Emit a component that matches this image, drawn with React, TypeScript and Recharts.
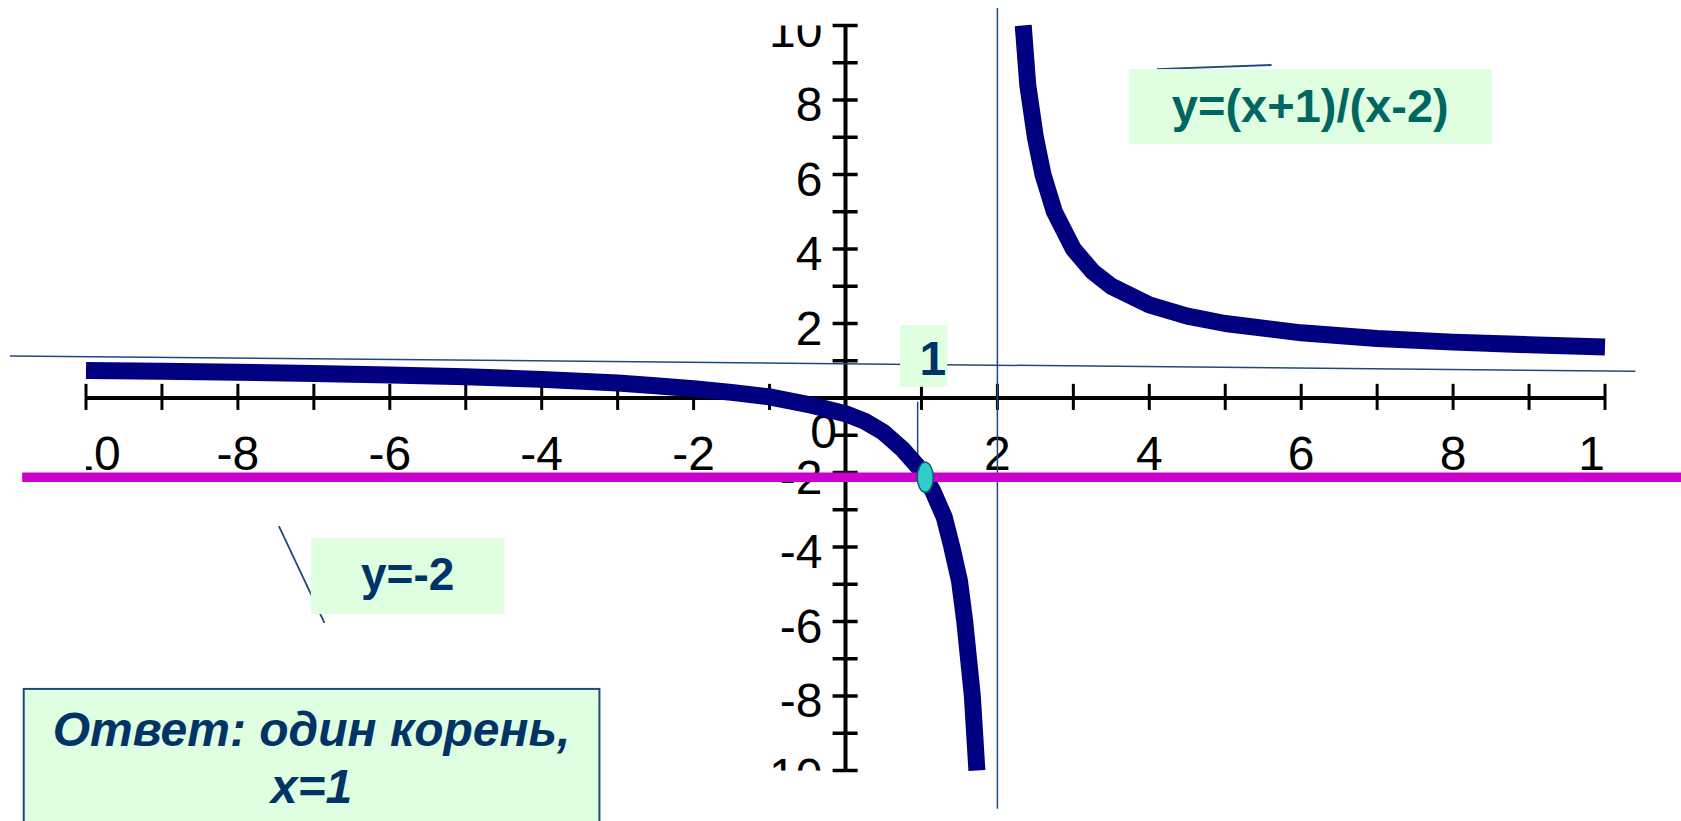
import React from 'react';
import {
  ComposedChart,
  Line,
  XAxis,
  YAxis,
  ReferenceLine,
  ReferenceDot,
  ReferenceArea,
} from 'recharts';

// ---- data ----
const leftBranch = [
  { x: -10, y: 0.74 }, { x: -9, y: 0.72 }, { x: -8, y: 0.69 }, { x: -7, y: 0.66 },
  { x: -6, y: 0.62 }, { x: -5, y: 0.57 }, { x: -4, y: 0.5 }, { x: -3, y: 0.4 },
  { x: -2.5, y: 0.33 }, { x: -2, y: 0.25 }, { x: -1.5, y: 0.15 }, { x: -1, y: 0.03 },
  { x: -0.5, y: -0.17 }, { x: 0, y: -0.42 }, { x: 0.25, y: -0.62 }, { x: 0.5, y: -0.92 },
  { x: 0.75, y: -1.37 }, { x: 1, y: -1.95 }, { x: 1.15, y: -2.5 }, { x: 1.3, y: -3.2 },
  { x: 1.4, y: -4 }, { x: 1.5, y: -4.9 }, { x: 1.57, y: -6 }, { x: 1.62, y: -7 },
  { x: 1.67, y: -8 }, { x: 1.7, y: -9 }, { x: 1.73, y: -10 },
];
const rightBranch = [
  { x: 2.34, y: 10 }, { x: 2.4, y: 8.4 }, { x: 2.5, y: 7 }, { x: 2.6, y: 6 },
  { x: 2.75, y: 5 }, { x: 3, y: 4 }, { x: 3.25, y: 3.4 }, { x: 3.5, y: 3 },
  { x: 4, y: 2.5 }, { x: 4.5, y: 2.2 }, { x: 5, y: 2 }, { x: 6, y: 1.75 },
  { x: 7, y: 1.6 }, { x: 8, y: 1.5 }, { x: 9, y: 1.43 }, { x: 10, y: 1.37 },
];

const xTickValues = [-10, -9, -8, -7, -6, -5, -4, -3, -2, -1, 0, 1, 2, 3, 4, 5, 6, 7, 8, 9, 10];
const yTickValues = [-10, -9, -8, -7, -6, -5, -4, -3, -2, -1, 1, 2, 3, 4, 5, 6, 7, 8, 9, 10];
const xLabelValues = [-10, -8, -6, -4, -2, 2, 4, 6, 8, 10];
const yLabelValues = [10, 8, 6, 4, 2, -2, -4, -6, -8, -10];
const originLabel = { x: 0, y: 0, text: '0' };

const xAxisSegment = [{ x: -10, y: 0 }, { x: 10, y: 0 }];
const yAxisSegment = [{ x: 0, y: -10 }, { x: 0, y: 10 }];

const horizontalAsymptote = [{ x: -11.0, y: 1.13 }, { x: 10.4, y: 0.72 }];
const verticalAsymptote = [{ x: 2, y: 10.47 }, { x: 2, y: -11.03 }];
const magentaLine = [{ x: -10.84, y: -2.13 }, { x: 11.3, y: -2.13 }];
const rootGuide = [{ x: 0.95, y: -0.1 }, { x: 0.95, y: -1.75 }];
const formulaPointer = [{ x: 4.1, y: 8.83 }, { x: 5.61, y: 8.94 }];
const linePointer = [{ x: -7.46, y: -3.44 }, { x: -6.86, y: -6.04 }];
const intersection = { x: 1.05, y: -2.13 };

const formulaBox = { x1: 3.73, x2: 8.51, y1: 6.82, y2: 8.83, lines: ['y=(x+1)/(x-2)'] };
const lineBox = { x1: -7.04, x2: -4.49, y1: -5.8, y2: -3.76, lines: ['y=-2'] };
const oneBox = { x1: 0.72, x2: 1.34, y1: 0.3, y2: 1.96, lines: ['1'] };
const answerBox = { x1: -10.82, x2: -3.24, y1: -11.6, y2: -7.81, lines: ['Ответ: один корень,', 'x=1'] };

// ---- styles ----
const FONT = '"Liberation Sans", Arial, sans-serif';
const MINT = '#e0ffe0';
const NAVY_TEXT = '#003366';
const THIN = '#1f497d';

// label drawn through a zero-length ReferenceLine segment (x1,y1 = anchor point)
const tickLabel = (text: string, anchor: 'middle' | 'end', dx: number, dy: number) => (p: any) => (
  <text
    x={p.x1 + dx}
    y={p.y1 + dy}
    clipPath={p.clipPath}
    textAnchor={anchor}
    fontFamily={FONT}
    fontSize={48}
    fill="#000"
  >
    {text}
  </text>
);

const boxShape =
  (
    lines: string[],
    opts: {
      color: string;
      size: number;
      italic?: boolean;
      stroke?: string;
      first: number;
      step?: number;
      dx?: number;
    },
  ) =>
  (p: any) =>
    (
      <g>
        <rect
          x={p.x}
          y={p.y}
          width={p.width}
          height={p.height}
          fill={MINT}
          stroke={opts.stroke || 'none'}
          strokeWidth={opts.stroke ? 2 : 0}
        />
        {lines.map((t, i) => (
          <text
            key={i}
            x={p.x + p.width / 2 + (opts.dx || 0)}
            y={p.y + opts.first + i * (opts.step || 0)}
            textAnchor="middle"
            fontFamily={FONT}
            fontSize={opts.size}
            fontWeight="bold"
            fontStyle={opts.italic ? 'italic' : 'normal'}
            fill={opts.color}
          >
            {t}
          </text>
        ))}
      </g>
    );

const ellipseShape = (p: any) => (
  <ellipse cx={p.cx} cy={p.cy} rx={8} ry={15} fill="#33cccc" stroke="#006666" strokeWidth={1.5} />
);

export default function App() {
  return (
    <div style={{ position: 'absolute', left: 0, top: 0, width: 1681, height: 821, background: '#fff' }}>
      <ComposedChart
        width={1681}
        height={821}
        margin={{ left: 86, right: 76, top: 25.5, bottom: 50.5 }}
      >
        <XAxis type="number" dataKey="x" domain={[-10, 10]} hide />
        <YAxis type="number" dataKey="y" domain={[-10, 10]} hide />

        {/* tick labels */}
        {xLabelValues.map((v) => (
          <ReferenceLine
            key={'xl' + v}
            segment={[{ x: v, y: 0 }, { x: v, y: 0 }]}
            ifOverflow="hidden"
            zIndex={100}
            shape={tickLabel(String(v), 'middle', 0, 72)}
          />
        ))}
        <ReferenceLine
          segment={[{ x: originLabel.x, y: originLabel.y }, { x: originLabel.x, y: originLabel.y }]}
          ifOverflow="hidden"
          zIndex={100}
          shape={tickLabel(originLabel.text, 'middle', -22, 50)}
        />
        {yLabelValues.map((v) => (
          <ReferenceLine
            key={'yl' + v}
            segment={[{ x: 0, y: v }, { x: 0, y: v }]}
            ifOverflow="hidden"
            zIndex={100}
            shape={tickLabel(String(v), 'end', -23, 21)}
          />
        ))}

        {/* axes */}
        <ReferenceLine segment={xAxisSegment} stroke="#000" strokeWidth={4} ifOverflow="visible" zIndex={200} />
        <ReferenceLine segment={yAxisSegment} stroke="#000" strokeWidth={4} ifOverflow="visible" zIndex={200} />
        {xTickValues.map((v) => (
          <ReferenceLine
            key={'xt' + v}
            segment={[{ x: v, y: 0.38 }, { x: v, y: -0.32 }]}
            stroke="#000"
            strokeWidth={3}
            ifOverflow="visible"
            zIndex={200}
          />
        ))}
        {yTickValues.map((v) => (
          <ReferenceLine
            key={'yt' + v}
            segment={[{ x: -0.17, y: v }, { x: 0.16, y: v }]}
            stroke="#000"
            strokeWidth={3.5}
            ifOverflow="visible"
            zIndex={200}
          />
        ))}

        {/* thin guide lines */}
        <ReferenceLine segment={horizontalAsymptote} stroke={THIN} strokeWidth={1.5} ifOverflow="visible" zIndex={300} />
        <ReferenceLine segment={verticalAsymptote} stroke={THIN} strokeWidth={1.5} ifOverflow="visible" zIndex={300} />
        <ReferenceLine segment={rootGuide} stroke={THIN} strokeWidth={1.5} ifOverflow="visible" zIndex={300} />
        <ReferenceLine segment={formulaPointer} stroke={THIN} strokeWidth={1.8} ifOverflow="visible" zIndex={300} />
        <ReferenceLine segment={linePointer} stroke={THIN} strokeWidth={1.8} ifOverflow="visible" zIndex={300} />

        {/* the hyperbola */}
        <Line
          data={leftBranch}
          dataKey="y"
          type="linear"
          stroke="#000080"
          strokeWidth={17}
          strokeLinejoin="round"
          strokeLinecap="butt"
          dot={false}
          activeDot={false}
          isAnimationActive={false}
          zIndex={400}
        />
        <Line
          data={rightBranch}
          dataKey="y"
          type="linear"
          stroke="#000080"
          strokeWidth={17}
          strokeLinejoin="round"
          strokeLinecap="butt"
          dot={false}
          activeDot={false}
          isAnimationActive={false}
          zIndex={400}
        />

        {/* y = -2 */}
        <ReferenceLine segment={magentaLine} stroke="#cc00cc" strokeWidth={9.5} ifOverflow="visible" zIndex={450} />

        {/* annotation boxes */}
        <ReferenceArea
          x1={formulaBox.x1}
          x2={formulaBox.x2}
          y1={formulaBox.y1}
          y2={formulaBox.y2}
          ifOverflow="visible"
          zIndex={500}
          shape={boxShape(formulaBox.lines, { color: '#006661', size: 47, first: 53 })}
        />
        <ReferenceArea
          x1={lineBox.x1}
          x2={lineBox.x2}
          y1={lineBox.y1}
          y2={lineBox.y2}
          ifOverflow="visible"
          zIndex={500}
          shape={boxShape(lineBox.lines, { color: NAVY_TEXT, size: 46, first: 52 })}
        />
        <ReferenceArea
          x1={oneBox.x1}
          x2={oneBox.x2}
          y1={oneBox.y1}
          y2={oneBox.y2}
          ifOverflow="visible"
          zIndex={500}
          shape={boxShape(oneBox.lines, { color: NAVY_TEXT, size: 48, first: 50, dx: 9 })}
        />
        <ReferenceArea
          x1={answerBox.x1}
          x2={answerBox.x2}
          y1={answerBox.y1}
          y2={answerBox.y2}
          ifOverflow="visible"
          zIndex={500}
          shape={boxShape(answerBox.lines, {
            color: NAVY_TEXT,
            size: 48,
            italic: true,
            stroke: '#1f497d',
            first: 57,
            step: 57,
          })}
        />

        {/* intersection point */}
        <ReferenceDot
          x={intersection.x}
          y={intersection.y}
          ifOverflow="visible"
          zIndex={600}
          shape={ellipseShape}
        />
      </ComposedChart>
    </div>
  );
}
